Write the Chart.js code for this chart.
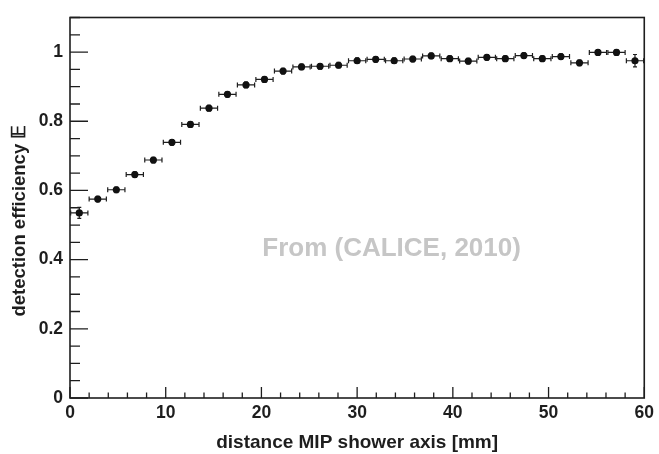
<!DOCTYPE html>
<html>
<head>
<meta charset="utf-8">
<script src="https://cdn.jsdelivr.net/npm/chart.js@4"></script>
<style>
  html, body { margin: 0; padding: 0; background: #fff; }
  canvas { display: block; }
</style>
</head>
<body>
<canvas id="effChart" width="659" height="454"></canvas>
<script>
// bin centres (31 bins over 0-60 mm) and measured efficiency
const distance = [0.97, 2.90, 4.84, 6.77, 8.71, 10.65, 12.58, 14.52, 16.45, 18.39,
  20.32, 22.26, 24.19, 26.13, 28.06, 30.00, 31.94, 33.87, 35.81, 37.74,
  39.68, 41.61, 43.55, 45.48, 47.42, 49.35, 51.29, 53.23, 55.16, 57.10, 59.03];
const efficiency = [0.535, 0.575, 0.602, 0.646, 0.688, 0.739, 0.791, 0.838, 0.878, 0.905,
  0.921, 0.945, 0.957, 0.959, 0.962, 0.975, 0.979, 0.975, 0.980, 0.989,
  0.981, 0.974, 0.985, 0.981, 0.990, 0.981, 0.987, 0.969, 0.999, 0.999, 0.975];
const xErr = [0.9, 0.9, 0.9, 0.9, 0.9, 0.9, 0.9, 0.9, 0.9, 0.9,
  0.9, 0.9, 0.9, 0.9, 0.9, 0.9, 0.9, 0.9, 0.9, 0.9,
  0.9, 0.9, 0.9, 0.9, 0.9, 0.9, 0.9, 0.9, 0.9, 0.9, 0.9];
const yErr = [0.016, 0.008, 0.008, 0.008, 0.008, 0.008, 0.008, 0.008, 0.008, 0.008,
  0.008, 0.008, 0.008, 0.008, 0.008, 0.008, 0.008, 0.008, 0.008, 0.008,
  0.008, 0.008, 0.008, 0.008, 0.008, 0.008, 0.008, 0.008, 0.008, 0.008, 0.018];

const xTicks = [0, 10, 20, 30, 40, 50, 60];
const yTicks = [0, 0.2, 0.4, 0.6, 0.8, 1];
const yTickLabels = ['0', '0.2', '0.4', '0.6', '0.8', '1'];

const FONT = "'Liberation Sans', Arial, Helvetica, sans-serif";
const INK = '#1e1e1e';

// frame, inner ticks, error bars and the source note
const framePlugin = {
  id: 'frame',
  beforeDatasetsDraw(chart) {
    const { ctx, scales: { x, y } } = chart;
    ctx.save();
    ctx.strokeStyle = INK;
    ctx.lineWidth = 1.2;
    distance.forEach((d, i) => {
      const px = x.getPixelForValue(d);
      const py = y.getPixelForValue(efficiency[i]);
      const x0 = x.getPixelForValue(d - xErr[i]);
      const x1 = x.getPixelForValue(d + xErr[i]);
      const y0 = y.getPixelForValue(efficiency[i] - yErr[i]);
      const y1 = y.getPixelForValue(efficiency[i] + yErr[i]);
      ctx.beginPath();
      ctx.moveTo(x0, py); ctx.lineTo(x1, py);
      ctx.moveTo(x0, py - 2.5); ctx.lineTo(x0, py + 2.5);
      ctx.moveTo(x1, py - 2.5); ctx.lineTo(x1, py + 2.5);
      ctx.moveTo(px, y0); ctx.lineTo(px, y1);
      ctx.moveTo(px - 2, y0); ctx.lineTo(px + 2, y0);
      ctx.moveTo(px - 2, y1); ctx.lineTo(px + 2, y1);
      ctx.stroke();
    });
    ctx.restore();
  },
  afterDraw(chart) {
    const { ctx, chartArea: a, scales: { x, y } } = chart;
    ctx.save();
    ctx.strokeStyle = INK;
    ctx.lineWidth = 1.6;
    ctx.strokeRect(a.left, a.top, a.right - a.left, a.bottom - a.top);

    ctx.lineWidth = 1.3;
    ctx.beginPath();
    for (let v = 0; v <= 60.001; v += 2) {
      const px = x.getPixelForValue(v);
      const len = Math.abs(v % 10) < 0.01 ? 11 : 5.5;
      ctx.moveTo(px, a.bottom); ctx.lineTo(px, a.bottom - len);
    }
    for (let k = 0; k <= 22; k++) {
      const v = k * 0.05;
      const py = y.getPixelForValue(v);
      const len = k % 4 === 0 ? 18 : 10;
      ctx.moveTo(a.left, py); ctx.lineTo(a.left + len, py);
    }
    ctx.stroke();

    ctx.fillStyle = '#c6c6c6';
    ctx.font = 'bold 26px ' + FONT;
    ctx.textAlign = 'center';
    ctx.textBaseline = 'alphabetic';
    ctx.fillText('From (CALICE, 2010)', x.getPixelForValue(33.6), y.getPixelForValue(0.41));
    ctx.restore();
  }
};

const ctx = document.getElementById('effChart').getContext('2d');

new Chart(ctx, {
  type: 'scatter',
  data: {
    datasets: [{
      label: 'efficiency',
      data: distance.map((d, i) => ({ x: d, y: efficiency[i] })),
      backgroundColor: '#111',
      borderWidth: 0,
      pointRadius: 3.6,
      pointHoverRadius: 3.6
    }]
  },
  options: {
    responsive: false,
    animation: false,
    layout: { padding: { top: 8, right: 10, left: 0, bottom: 0 } },
    scales: {
      x: {
        type: 'linear',
        min: 0,
        max: 60,
        afterFit(scale) { scale.height = 56; },
        afterBuildTicks(scale) { scale.ticks = xTicks.map(v => ({ value: v })); },
        grid: { display: false, drawTicks: false },
        border: { display: false },
        ticks: {
          color: INK,
          padding: 5,
          maxRotation: 0,
          font: { family: FONT, size: 17.5, weight: 'bold' }
        },
        title: {
          display: true,
          text: 'distance MIP shower axis [mm]',
          color: INK,
          padding: { top: 0, bottom: 0 },
          font: { family: FONT, size: 19, weight: 'bold' }
        }
      },
      y: {
        min: 0,
        max: 1.1,
        afterFit(scale) { scale.width = 70; },
        afterBuildTicks(scale) { scale.ticks = yTicks.map(v => ({ value: v })); },
        grid: { display: false, drawTicks: false },
        border: { display: false },
        ticks: {
          color: INK,
          padding: 7,
          font: { family: FONT, size: 17.5, weight: 'bold' },
          callback: function(value) {
            const i = yTicks.findIndex(t => Math.abs(t - value) < 1e-6);
            return i >= 0 ? yTickLabels[i] : '';
          }
        },
        title: {
          display: true,
          text: 'detection efficiency \u{1D53C}\u00a0\u00a0\u00a0\u00a0\u00a0',
          color: INK,
          padding: { top: 9, bottom: 0 },
          font: { family: FONT, size: 18.5, weight: 'bold' }
        }
      }
    },
    plugins: {
      legend: { display: false },
      tooltip: { enabled: false }
    }
  },
  plugins: [framePlugin]
});
</script>
</body>
</html>
